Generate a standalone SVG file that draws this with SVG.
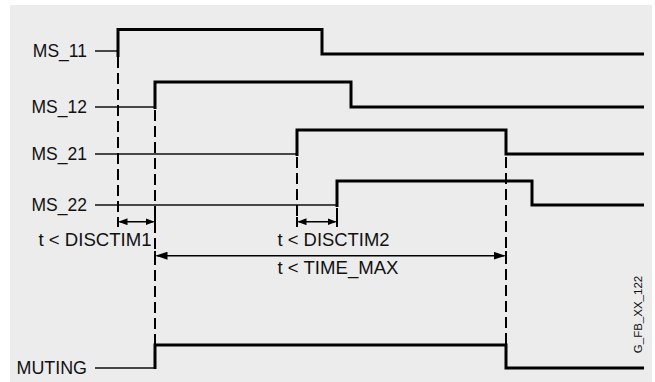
<svg xmlns="http://www.w3.org/2000/svg" width="655" height="382" viewBox="0 0 655 382">
<style>
.bg{fill:#ececec}
.lbl{font-family:"Liberation Sans",Arial,sans-serif;font-size:17.5px;fill:#111}
.dl{font-family:"Liberation Sans",Arial,sans-serif;font-size:18px;fill:#111}
.small{font-family:"Liberation Sans",Arial,sans-serif;font-size:11.5px;fill:#111}
.thin{stroke:#111;stroke-width:1.5;fill:none}
.sig{stroke:#000;stroke-width:3;fill:none;stroke-linejoin:miter}
.dash{stroke:#000;stroke-width:2;stroke-dasharray:11 5;fill:none}
.dim{stroke:#000;stroke-width:1.5;fill:none}
.tick{stroke:#000;stroke-width:2}
</style>
<defs>
<marker id="ahs" markerUnits="userSpaceOnUse" markerWidth="9" markerHeight="7" refX="8" refY="3.5" orient="auto-start-reverse"><path d="M0,0 L9,3.5 L0,7 z" fill="#000"/></marker>
<marker id="ahb" markerUnits="userSpaceOnUse" markerWidth="12" markerHeight="8" refX="11" refY="4" orient="auto-start-reverse"><path d="M0,0 L12,4 L0,8 z" fill="#000"/></marker>
</defs>
<rect class="bg" x="10" y="5" width="642" height="377"/>
<g id="ms11">
<text class="lbl" x="87" y="57.3" text-anchor="end">MS_11</text>
<line class="thin" x1="95" y1="51" x2="118" y2="51"/>
<polyline class="sig" points="118,57 118,29.5 322,29.5 322,54 644,54"/>
</g>
<g id="ms12">
<text class="lbl" x="87" y="113.3" text-anchor="end">MS_12</text>
<line class="thin" x1="95" y1="107" x2="155" y2="107"/>
<polyline class="sig" points="155,109 155,82 351,82 351,107 644,107"/>
</g>
<g id="ms21">
<text class="lbl" x="87" y="160.3" text-anchor="end">MS_21</text>
<line class="thin" x1="95" y1="154" x2="297" y2="154"/>
<polyline class="sig" points="297,156 297,130 506,130 506,154 644,154"/>
</g>
<g id="ms22">
<text class="lbl" x="87" y="211.3" text-anchor="end">MS_22</text>
<line class="thin" x1="95" y1="205" x2="337" y2="205"/>
<polyline class="sig" points="337,207 337,181 532,181 532,205 644,205"/>
</g>
<g id="muting">
<text class="lbl" x="87" y="374" text-anchor="end" textLength="70.5" lengthAdjust="spacingAndGlyphs">MUTING</text>
<line class="thin" x1="95" y1="368" x2="155" y2="368"/>
<polyline class="sig" points="155,369 155,345 506,345 506,368 644,368"/>
</g>
<g id="connectors">
<line class="dash" x1="118" y1="57" x2="118" y2="227"/>
<line class="dash" x1="155" y1="110" x2="155" y2="345"/>
<line class="dash" x1="297" y1="157" x2="297" y2="227"/>
<line class="dash" x1="337" y1="208" x2="337" y2="227"/>
<line class="dash" x1="506" y1="157" x2="506" y2="345"/>
<line class="tick" x1="118" y1="217" x2="118" y2="227"/>
<line class="tick" x1="155" y1="217" x2="155" y2="227"/>
<line class="tick" x1="297" y1="217" x2="297" y2="227"/>
<line class="tick" x1="337" y1="217" x2="337" y2="227"/>
<line class="tick" x1="155" y1="251" x2="155" y2="261"/>
<line class="tick" x1="506" y1="251" x2="506" y2="261"/>
<line class="dim" x1="119.5" y1="221.7" x2="153.5" y2="221.7" marker-start="url(#ahs)" marker-end="url(#ahs)"/>
<line class="dim" x1="298.5" y1="221.7" x2="335.5" y2="221.7" marker-start="url(#ahs)" marker-end="url(#ahs)"/>
<line class="dim" x1="156.5" y1="255.7" x2="504.5" y2="255.7" marker-start="url(#ahb)" marker-end="url(#ahb)"/>
</g>
<g id="labels">
<text class="dl" x="38.5" y="245.5" textLength="113" lengthAdjust="spacingAndGlyphs">t &lt; DISCTIM1</text>
<text class="dl" x="277.5" y="245.5" textLength="112" lengthAdjust="spacingAndGlyphs">t &lt; DISCTIM2</text>
<text class="dl" x="277.5" y="273.5" textLength="121" lengthAdjust="spacingAndGlyphs">t &lt; TIME_MAX</text>
<text class="small" transform="translate(642,314.5) rotate(-90)" text-anchor="middle">G_FB_XX_122</text>
</g>
</svg>
